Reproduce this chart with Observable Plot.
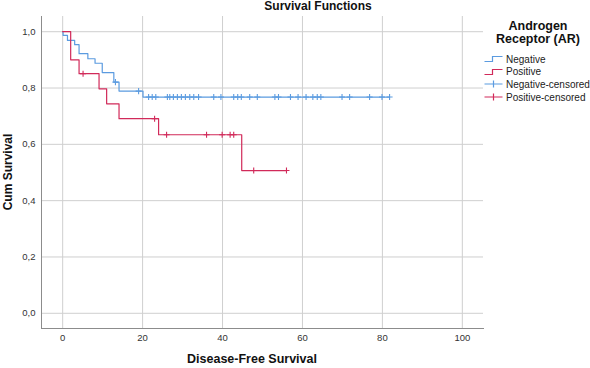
<!DOCTYPE html>
<html>
<head>
<meta charset="utf-8">
<script src="https://cdn.jsdelivr.net/npm/d3@7"></script>
<script src="https://cdn.jsdelivr.net/npm/@observablehq/plot@0.6"></script>
<style>
  body { margin: 0; background: #fff; font-family: "Liberation Sans", Arial, sans-serif; }
  #chart { position: relative; width: 590px; height: 368px; overflow: hidden; }
  #chart svg.plot { position: absolute; left: 0; top: 0; }
  .title { position: absolute; left: 218px; top: -1px; width: 200px; text-align: center; font-weight: bold; font-size: 12px; color: #111; }
  .ylab { position: absolute; left: 8px; top: 172px; transform: translate(-50%, -50%) rotate(-90deg); font-weight: bold; font-size: 12px; color: #111; white-space: nowrap; }
  .xlab { position: absolute; left: 252px; top: 352px; transform: translateX(-50%); font-weight: bold; font-size: 12.5px; color: #111; white-space: nowrap; }
  .legend { position: absolute; left: 484px; top: 20px; width: 106px; color: #222; }
  .legend .lt { text-align: center; font-weight: bold; font-size: 12.5px; line-height: 13px; margin-left: 2px; margin-bottom: 7px; color: #111; }
  .legend .row { display: flex; align-items: center; height: 12.6px; font-size: 10px; }
  .legend .row svg { margin-right: 3px; flex: none; }
</style>
</head>
<body>
<div id="chart"></div>
<script>
// Kaplan–Meier estimates of disease-free survival by androgen receptor status
const negStepTimes = [0, 0.1, 1.2, 3.0, 4.1, 6.3, 8.1, 9.9, 12.8, 14.1, 20.1];
const negStepSurv  = [1.0, 0.987, 0.969, 0.954, 0.922, 0.904, 0.888, 0.855, 0.821, 0.789, 0.768];
const negCensored  = [13.2, 19.0, 21.5, 22.4, 23.3, 26.2, 26.8, 27.7, 28.7, 29.7, 30.7, 31.8, 32.8, 34.0,
                      37.8, 39.6, 42.8, 43.8, 44.7, 46.8, 48.7, 53.1, 54.0, 57.0, 58.9, 60.9, 62.6, 63.7,
                      64.6, 69.9, 71.8, 76.8, 79.9, 81.8];

const posStepTimes = [0, 2.0, 4.1, 9.1, 11.0, 14.1, 24.0, 44.8];
const posStepSurv  = [1.0, 0.900, 0.851, 0.797, 0.744, 0.691, 0.634, 0.507];
const posCensored  = [5.1, 23.0, 26.0, 36.0, 39.9, 41.9, 42.8, 47.8, 56.0];

const xTicks = [0, 20, 40, 60, 80, 100];
const yTicks = [0, 0.2, 0.4, 0.6, 0.8, 1.0];

const seriesNames = ["Negative", "Positive"];
const seriesColors = ["#5b9be0", "#d12a5a"];

// survival value in effect at time t (right-continuous step function)
function survivalAt(times, surv, t) {
  const i = d3.bisectRight(times, t) - 1;
  return surv[Math.max(0, i)];
}
function stepLine(times, surv, censored) {
  const pts = times.map((t, i) => ({t, s: surv[i]}));
  const end = d3.max(censored);
  if (end > times[times.length - 1]) pts.push({t: end, s: survivalAt(times, surv, end)});
  return pts;
}
function censorPoints(times, surv, censored) {
  return censored.map(t => ({t, s: survivalAt(times, surv, t)}));
}

const negLine = stepLine(negStepTimes, negStepSurv, negCensored);
const posLine = stepLine(posStepTimes, posStepSurv, posCensored);
const negCens = censorPoints(negStepTimes, negStepSurv, negCensored);
const posCens = censorPoints(posStepTimes, posStepSurv, posCensored);

const commaFmt = d => d.toFixed(1).replace(".", ",");

const plot = Plot.plot({
  width: 590,
  height: 368,
  marginLeft: 41,
  marginRight: 107,
  marginTop: 16,
  marginBottom: 40,
  style: {fontFamily: "'Liberation Sans', Arial, sans-serif", fontSize: "9.5px", color: "#333", background: "transparent"},
  x: {domain: [-5.3, 105.3]},
  y: {domain: [-0.054, 1.054]},
  marks: [
    Plot.gridX(xTicks, {stroke: "#cfcfcf", strokeOpacity: 1}),
    Plot.gridY(yTicks, {stroke: "#cfcfcf", strokeOpacity: 1}),
    Plot.frame({anchor: "left", stroke: "#8c8c8c"}),
    Plot.frame({anchor: "bottom", stroke: "#8c8c8c"}),
    Plot.axisX(xTicks, {tickSize: 0, tickPadding: 6, label: null, tickFormat: d => String(d)}),
    Plot.axisY(yTicks, {tickSize: 0, tickPadding: 6, label: null, tickFormat: commaFmt}),
    Plot.line(negLine, {x: "t", y: "s", curve: "step-after", stroke: seriesColors[0], strokeWidth: 1.2}),
    Plot.line(posLine, {x: "t", y: "s", curve: "step-after", stroke: seriesColors[1], strokeWidth: 1.2}),
    Plot.dot(negCens, {x: "t", y: "s", symbol: "plus", r: 2.1, stroke: seriesColors[0], strokeWidth: 1.1}),
    Plot.dot(posCens, {x: "t", y: "s", symbol: "plus", r: 2.1, stroke: seriesColors[1], strokeWidth: 1.1})
  ]
});
plot.classList.add("plot");

const chart = document.getElementById("chart");
chart.appendChild(plot);

function addDiv(cls, html) {
  const d = document.createElement("div");
  d.className = cls;
  d.innerHTML = html;
  chart.appendChild(d);
  return d;
}
addDiv("title", "Survival Functions");
addDiv("ylab", "Cum Survival");
addDiv("xlab", "Disease-Free Survival");

const stepSwatch = c => `<svg width="19" height="10"><path d="M0.5,7.5H8.5V2.5H18.5" fill="none" stroke="${c}" stroke-width="1.2"/></svg>`;
const plusSwatch = c => `<svg width="19" height="10"><path d="M0.5,5H18.5M9.5,1.5V8.5" fill="none" stroke="${c}" stroke-width="1.2"/></svg>`;
let legendHtml = `<div class="lt">Androgen<br>Receptor (AR)</div>`;
seriesNames.forEach((n, i) => {
  legendHtml += `<div class="row">${stepSwatch(seriesColors[i])}<span>${n}</span></div>`;
});
seriesNames.forEach((n, i) => {
  legendHtml += `<div class="row">${plusSwatch(seriesColors[i])}<span>${n}-censored</span></div>`;
});
addDiv("legend", legendHtml);
</script>
</body>
</html>
